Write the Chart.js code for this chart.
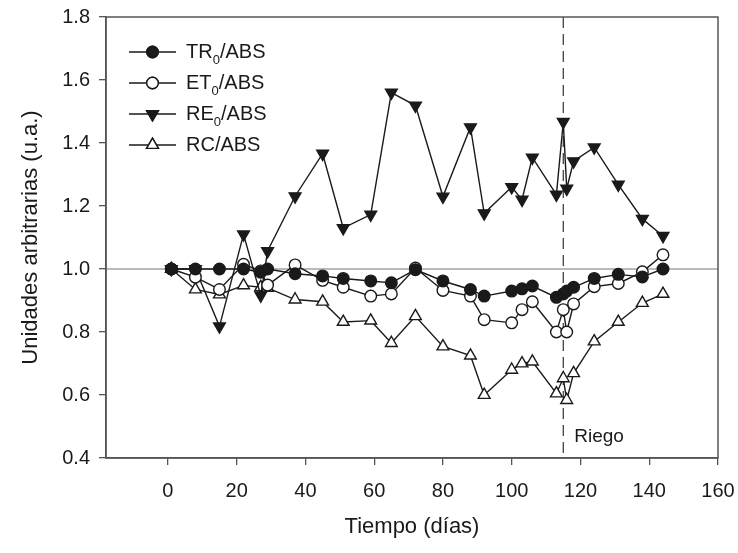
<!DOCTYPE html>
<html>
<head>
<meta charset="utf-8">
<script src="https://cdn.jsdelivr.net/npm/chart.js@4.4.1/dist/chart.umd.min.js"></script>
<style>
  body { margin: 0; background: #fff; }
  #wrap { width: 738px; height: 553px; }
</style>
</head>
<body>
<div id="wrap"><canvas id="myChart" width="738" height="553"></canvas></div>
<script>
// días de muestreo
var dias = [1, 8, 15, 22, 27, 29, 37, 45, 51, 59, 65, 72, 80, 88, 92, 100, 103, 106, 113, 115, 116, 118, 124, 131, 138, 144];

var tr0 = [1.0, 1.0, 1.0, 1.0, 0.99, 1.0, 0.985, 0.978, 0.97, 0.962, 0.956, 0.998, 0.962, 0.935, 0.914, 0.93, 0.937, 0.946, 0.91, 0.921, 0.93, 0.942, 0.97, 0.983, 0.975, 1.0];
var et0 = [1.0, 0.974, 0.935, 1.015, 0.994, 0.949, 1.013, 0.964, 0.942, 0.914, 0.921, 1.003, 0.932, 0.914, 0.839, 0.829, 0.871, 0.896, 0.80, 0.871, 0.80, 0.889, 0.944, 0.954, 0.991, 1.045];
var re0 = [1.0, 1.0, 0.818, 1.11, 0.916, 1.057, 1.231, 1.366, 1.13, 1.173, 1.56, 1.519, 1.23, 1.45, 1.177, 1.26, 1.22, 1.354, 1.236, 1.467, 1.255, 1.342, 1.386, 1.268, 1.159, 1.105];
var rc = [1.0, 0.935, 0.919, 0.948, 0.942, 0.94, 0.903, 0.896, 0.832, 0.836, 0.765, 0.85, 0.754, 0.725, 0.6, 0.68, 0.70, 0.706, 0.605, 0.653, 0.584, 0.669, 0.77, 0.832, 0.892, 0.921];

var etiquetas = ['TR₀/ABS', 'ET₀/ABS', 'RE₀/ABS', 'RC/ABS'];
var xTicks = [0, 20, 40, 60, 80, 100, 120, 140, 160];
var yTicks = [0.4, 0.6, 0.8, 1.0, 1.2, 1.4, 1.6, 1.8];
var riegoDia = 115;
var riegoTexto = 'Riego';
var lineaRef = 1.0;

var fuente = "'Liberation Sans', Arial, sans-serif";
var negro = '#1a1a1a';

function puntos(valores) {
  return dias.map(function (d, i) { return { x: d, y: valores[i] }; });
}

// linea 1.0, linea de riego, marco y leyenda
var extras = {
  id: 'extras',
  beforeDatasetsDraw: function (chart) {
    var ctx = chart.ctx, a = chart.chartArea;
    var xs = chart.scales.x, ys = chart.scales.y;
    ctx.save();
    var yRef = ys.getPixelForValue(lineaRef);
    ctx.strokeStyle = '#777';
    ctx.lineWidth = 1.2;
    ctx.beginPath();
    ctx.moveTo(a.left, yRef);
    ctx.lineTo(a.right, yRef);
    ctx.stroke();
    var xr = xs.getPixelForValue(riegoDia);
    ctx.strokeStyle = '#333';
    ctx.setLineDash([11, 6]);
    ctx.beginPath();
    ctx.moveTo(xr, a.top);
    ctx.lineTo(xr, a.bottom);
    ctx.stroke();
    ctx.setLineDash([]);
    ctx.fillStyle = negro;
    ctx.font = '19px ' + fuente;
    ctx.textBaseline = 'middle';
    ctx.fillText(riegoTexto, xr + 11, 437);
    ctx.restore();
  },
  afterDraw: function (chart) {
    var ctx = chart.ctx, a = chart.chartArea;
    ctx.save();
    ctx.strokeStyle = '#555';
    ctx.lineWidth = 1.5;
    ctx.strokeRect(a.left, a.top, a.right - a.left, a.bottom - a.top);
    // leyenda
    chart.data.datasets.forEach(function (ds, i) {
      var y = 52 + i * 31;
      ctx.strokeStyle = ds.borderColor;
      ctx.lineWidth = 1.4;
      ctx.beginPath();
      ctx.moveTo(129, y);
      ctx.lineTo(176, y);
      ctx.stroke();
      Chart.helpers.drawPoint(ctx, {
        pointStyle: ds.pointStyle,
        rotation: ds.pointRotation || 0,
        radius: ds.pointRadius,
        borderWidth: ds.pointBorderWidth
      }, 152.5, y);
      ctx.fillStyle = ds.pointBackgroundColor;
      ctx.strokeStyle = ds.pointBorderColor;
      ctx.lineWidth = ds.pointBorderWidth;
      ctx.fill();
      ctx.stroke();
      var partes = ds.label.split('₀');
      ctx.fillStyle = negro;
      ctx.textBaseline = 'middle';
      ctx.font = '20px ' + fuente;
      var x = 186;
      ctx.fillText(partes[0], x, y);
      x += ctx.measureText(partes[0]).width;
      if (partes.length > 1) {
        ctx.font = '13px ' + fuente;
        ctx.fillText('0', x, y + 8);
        x += ctx.measureText('0').width;
        ctx.font = '20px ' + fuente;
        ctx.fillText(partes[1], x, y);
      }
    });
    ctx.restore();
  }
};

function serie(label, valores, estilo, relleno, rot, radio) {
  return {
    label: label,
    data: puntos(valores),
    borderColor: negro,
    borderWidth: 1.4,
    pointStyle: estilo,
    pointRotation: rot,
    pointRadius: radio,
    pointBackgroundColor: relleno,
    pointBorderColor: negro,
    pointBorderWidth: 1.4,
    tension: 0
  };
}

var ctx = document.getElementById('myChart').getContext('2d');
var myChart = new Chart(ctx, {
  type: 'line',
  data: {
    datasets: [
      serie(etiquetas[0], tr0, 'circle', negro, 0, 5.8),
      serie(etiquetas[1], et0, 'circle', '#fff', 0, 5.8),
      serie(etiquetas[2], re0, 'triangle', negro, 180, 6.8),
      serie(etiquetas[3], rc, 'triangle', '#fff', 0, 6.8)
    ]
  },
  options: {
    responsive: false,
    animation: false,
    layout: { padding: { left: 0, top: 17, right: 20, bottom: 0 } },
    plugins: { legend: { display: false }, tooltip: { enabled: false } },
    scales: {
      x: {
        type: 'linear',
        min: -18,
        max: 160,
        afterBuildTicks: function (s) { s.ticks = xTicks.map(function (v) { return { value: v }; }); },
        afterFit: function (s) { s.height = 95; s.paddingLeft = 0; s.paddingRight = 0; },
        grid: { drawOnChartArea: false, tickLength: 7, color: '#555', lineWidth: 1.3 },
        border: { color: '#555', width: 1.5 },
        ticks: { color: negro, font: { family: fuente, size: 20 }, padding: 14, maxRotation: 0 },
        title: { display: true, text: 'Tiempo (días)', color: negro, font: { family: fuente, size: 22 }, padding: { top: 0, bottom: 13 } }
      },
      y: {
        min: 0.4,
        max: 1.8,
        afterBuildTicks: function (s) { s.ticks = yTicks.map(function (v) { return { value: v }; }); },
        afterFit: function (s) { s.width = 106; s.paddingTop = 0; s.paddingBottom = 0; },
        grid: { drawOnChartArea: false, tickLength: 7, color: '#555', lineWidth: 1.3 },
        border: { color: '#555', width: 1.5 },
        ticks: { color: negro, font: { family: fuente, size: 20 }, padding: 9,
          callback: function (v) { return v.toFixed(1); } },
        title: { display: true, text: 'Unidades arbitrarias (u.a.)', color: negro, font: { family: fuente, size: 22 }, padding: { top: 18, bottom: 18 } }
      }
    }
  },
  plugins: [extras]
});
</script>
</body>
</html>
